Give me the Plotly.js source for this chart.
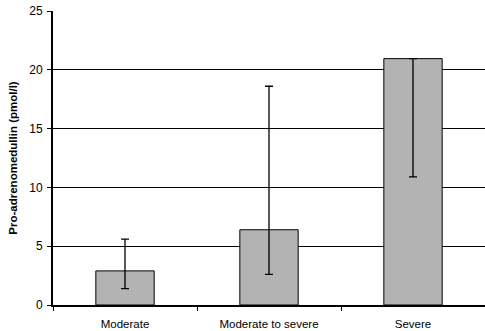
<!DOCTYPE html>
<html>
<head>
<meta charset="utf-8">
<script src="https://cdn.plot.ly/plotly-3.0.1.min.js"></script>
<style>html,body{margin:0;padding:0;background:#fff;}#chart{width:485px;height:331px;}</style>
</head>
<body>
<div id="chart"></div>
<script>
const categories = ["Moderate", "Moderate to severe", "Severe"];
const values = [2.9, 6.4, 20.95];
const errUpper = [5.6, 18.6, 20.95];
const errLower = [1.4, 2.6, 10.9];
const yTicks = [0, 5, 10, 15, 20, 25];

const plus = values.map((v, i) => errUpper[i] - v);
const minus = values.map((v, i) => v - errLower[i]);

const trace = {
  type: "bar",
  x: categories,
  y: values,
  marker: {color: "#b3b3b3", line: {color: "#000", width: 1}},
  error_y: {type: "data", symmetric: false, array: plus, arrayminus: minus,
            color: "#000", thickness: 1.3, width: 4},
  hoverinfo: "skip"
};

const layout = {
  width: 485, height: 331,
  margin: {l: 53, r: 0, t: 11, b: 26},
  paper_bgcolor: "#fff", plot_bgcolor: "#fff",
  bargap: 0.595,
  showlegend: false,
  font: {family: "Liberation Sans, Arial, sans-serif", color: "#000", size: 11},
  xaxis: {
    range: [-0.5, 2.5],
    showline: true, linecolor: "#000", linewidth: 2,
    ticks: "outside", tickson: "boundaries", ticklen: 4, tickcolor: "#000", tickwidth: 1,
    showgrid: false, zeroline: false,
    ticklabelstandoff: 7,
    tickfont: {size: 11.5}
  },
  yaxis: {
    range: [0, 25],
    tickvals: yTicks,
    showline: true, linecolor: "#000", linewidth: 2,
    ticks: "outside", ticklen: 4, tickcolor: "#000", tickwidth: 1,
    showgrid: true, gridcolor: "#000", gridwidth: 1,
    zeroline: false,
    ticklabelstandoff: 2,
    tickfont: {size: 12},
    title: {text: "<b>Pro-adrenomedullin (pmol/l)</b>", font: {size: 11.5}, standoff: 9}
  }
};

Plotly.newPlot("chart", [trace], layout, {displayModeBar: false, staticPlot: true});
</script>
</body>
</html>
